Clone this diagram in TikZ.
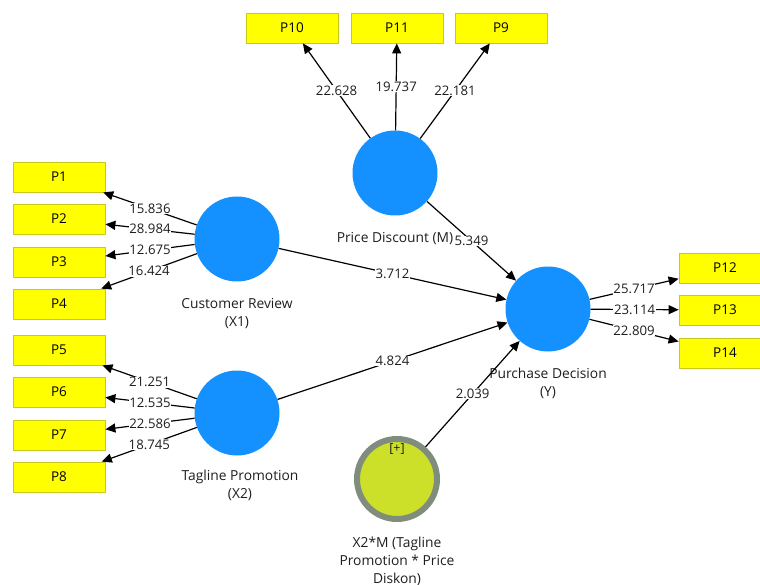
\documentclass[tikz,border=0pt]{standalone}
\usepackage{fontspec}
\setmainfont{Open Sans}
\usetikzlibrary{arrows.meta}
\definecolor{lvblue}{RGB}{20,145,255}
\definecolor{boxyel}{RGB}{255,255,0}
\definecolor{boxedge}{RGB}{200,200,30}
\definecolor{modfill}{RGB}{204,224,42}
\definecolor{modring}{RGB}{128,140,124}
\definecolor{txt}{RGB}{30,30,30}
\tikzset{
  ind/.style={draw=boxedge, fill=boxyel, line width=0.8pt, minimum width=92pt, minimum height=30pt, inner sep=0pt, font=\fontsize{13.5}{15}\selectfont, text=black},
  lv/.style={circle, fill=lvblue, minimum size=85pt, inner sep=0pt},
  modlv/.style={circle, fill=modfill, draw=modring, line width=6pt, minimum size=80pt, inner sep=0pt},
  clbl/.style={align=center, font=\fontsize{13.8}{18}\selectfont, text=txt, inner sep=0pt},
  arr/.style={-{Triangle[length=10pt,width=9pt]}, line width=1.2pt, black},
  lbl/.style={fill=white, inner sep=0.6pt, font=\fontsize{13.2}{15}\selectfont, text=txt, pos=0.5}
}
\begin{document}
\begin{tikzpicture}[x=1pt,y=-1pt]
\useasboundingbox (0,0) rectangle (760,585);
\clip (0,0) rectangle (760,585);
% indicator boxes
\node[ind] (p10) at (292,28) {P10};
\node[ind] (p11) at (397,28) {P11};
\node[ind] (p9)  at (501,28) {P9};
\node[ind] (p1) at (59,177) {P1};
\node[ind] (p2) at (59,219) {P2};
\node[ind] (p3) at (59,262) {P3};
\node[ind] (p4) at (59,304) {P4};
\node[ind] (p5) at (59,350) {P5};
\node[ind] (p6) at (59,392) {P6};
\node[ind] (p7) at (59,435) {P7};
\node[ind] (p8) at (59,477) {P8};
\node[ind] (p12) at (725,268) {P12};
\node[ind] (p13) at (725,310) {P13};
\node[ind] (p14) at (725,353) {P14};
% latent variables
\node[lv] (pd) at (395,173) {};
\node[lv] (cr) at (237,239) {};
\node[lv] (tp) at (237,413) {};
\node[lv] (y) at (548,309) {};
\node[modlv] (x2m) at (397,479) {};
\node[font=\fontsize{12.5}{14}\selectfont, text=txt, inner sep=0pt] (plus) at (397,449) {[+]};
% latent labels
\node[clbl] (pdl) at (395,239) {Price Discount (M)};
\node[clbl] (crl) at (237,314) {Customer Review\\(X1)};
\node[clbl] (tpl) at (240,485) {Tagline Promotion\\(X2)};
\node[clbl] (yl) at (548,383) {Purchase Decision\\(Y)};
\node[clbl] (x2ml) at (397,561) {X2*M (Tagline\\Promotion * Price\\Diskon)};
% outer loadings
\draw[arr] (pd) -- node[lbl]{22.628} (p10);
\draw[arr] (pd) -- node[lbl]{19.737} (p11);
\draw[arr] (pd) -- node[lbl]{22.181} (p9);
\draw[arr] (cr) -- node[lbl]{15.836} (p1);
\draw[arr] (cr) -- node[lbl]{28.984} (p2);
\draw[arr] (cr) -- node[lbl]{12.675} (p3);
\draw[arr] (cr) -- node[lbl]{16.424} (p4);
\draw[arr] (tp) -- node[lbl]{21.251} (p5);
\draw[arr] (tp) -- node[lbl]{12.535} (p6);
\draw[arr] (tp) -- node[lbl]{22.586} (p7);
\draw[arr] (tp) -- node[lbl]{18.745} (p8);
\draw[arr] (y) -- node[lbl]{25.717} (p12);
\draw[arr] (y) -- node[lbl]{23.114} (p13);
\draw[arr] (y) -- node[lbl]{22.809} (p14);
% structural paths
\draw[arr] (cr) -- node[lbl]{3.712} (y);
\draw[arr] (tp) -- node[lbl]{4.824} (y);
\draw[arr] (pd) -- node[lbl]{5.349} (y);
\draw[arr] (x2m) -- node[lbl]{2.039} (y);
\end{tikzpicture}
\end{document}
